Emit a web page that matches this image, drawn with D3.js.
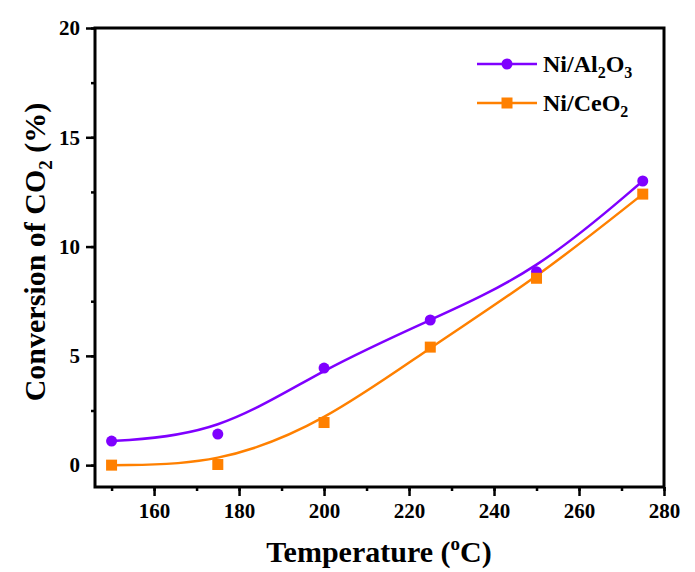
<!DOCTYPE html>
<html>
<head>
<meta charset="utf-8">
<script src="https://cdn.jsdelivr.net/npm/d3@7"></script>
<style>
  body { margin: 0; background: #fff; }
  svg text { font-family: "Liberation Serif", "Times New Roman", serif; font-weight: bold; }
</style>
</head>
<body>
<svg id="chart"></svg>
<script>
// Data
const temps = [150, 175, 200, 225, 250, 275];
const alValues = [1.1, 1.42, 4.44, 6.64, 8.85, 13.0];
const ceValues = [0.0, 0.03, 1.95, 5.4, 8.55, 12.4];
const xTicks = [160, 180, 200, 220, 240, 260, 280];
const yTicks = [0, 5, 10, 15, 20];

const W = 695, H = 572;
const plot = { left: 95, right: 664, top: 28, bottom: 487 };

const svg = d3.select('#chart')
    .attr('width', W)
    .attr('height', H);

const xScale = d3.scaleLinear().domain([146.1, 280]).range([plot.left, plot.right]);
const yScale = d3.scaleLinear().domain([-1, 20]).range([plot.bottom, plot.top]);

// x axis: minor ticks every 10, labels on 20s
const xAxis = svg.append('g')
    .attr('transform', `translate(0,${plot.bottom})`);
xAxis.call(d3.axisBottom(xScale).tickValues(d3.range(150, 281, 10)).tickSize(4).tickFormat(() => ''));
xAxis.append('g').call(d3.axisBottom(xScale).tickValues(xTicks).tickSize(9).tickPadding(7).tickFormat(d3.format('d')));

// y axis
const yAxis = svg.append('g')
    .attr('transform', `translate(${plot.left},0)`);
yAxis.call(d3.axisLeft(yScale).tickValues(d3.range(0, 20.1, 2.5)).tickSize(4).tickFormat(() => ''));
yAxis.append('g').call(d3.axisLeft(yScale).tickValues(yTicks).tickSize(9).tickPadding(6).tickFormat(d3.format('d')));

svg.selectAll('.domain').remove();
svg.selectAll('.tick line').attr('stroke', '#000').attr('stroke-width', 2.5);
svg.selectAll('.tick text').attr('font-size', 21).attr('fill', '#000');

// frame
svg.append('rect')
    .attr('x', plot.left)
    .attr('y', plot.top)
    .attr('width', plot.right - plot.left)
    .attr('height', plot.bottom - plot.top)
    .attr('fill', 'none')
    .attr('stroke', '#000')
    .attr('stroke-width', 3);

const purple = '#7f00ff';
const orange = '#ff8000';

const line = d3.line()
    .x(d => xScale(d[0]))
    .y(d => yScale(d[1]))
    .curve(d3.curveBasis);

const alData = temps.map((t, i) => [t, alValues[i]]);
const ceData = temps.map((t, i) => [t, ceValues[i]]);

svg.append('path').datum(alData)
    .attr('d', line).attr('fill', 'none').attr('stroke', purple).attr('stroke-width', 2.5);
svg.append('path').datum(ceData)
    .attr('d', line).attr('fill', 'none').attr('stroke', orange).attr('stroke-width', 2.5);

svg.selectAll('.al-pt').data(alData).enter()
    .append('circle')
    .attr('class', 'al-pt')
    .attr('cx', d => xScale(d[0]))
    .attr('cy', d => yScale(d[1]))
    .attr('r', 5.5)
    .attr('fill', purple);

const sq = 11;
svg.selectAll('.ce-pt').data(ceData).enter()
    .append('rect')
    .attr('class', 'ce-pt')
    .attr('x', d => xScale(d[0]) - sq / 2)
    .attr('y', d => yScale(d[1]) - sq / 2)
    .attr('width', sq)
    .attr('height', sq)
    .attr('fill', orange);

// legend
const legend = svg.append('g');
const items = [
    { color: purple, shape: 'circle', parts: [['Ni/Al', false], ['2', true], ['O', false], ['3', true]] },
    { color: orange, shape: 'square', parts: [['Ni/CeO', false], ['2', true]] }
];
items.forEach((it, i) => {
    const y = 64 + i * 39;
    legend.append('line')
        .attr('x1', 477).attr('x2', 537)
        .attr('y1', y).attr('y2', y)
        .attr('stroke', it.color).attr('stroke-width', 2.5);
    if (it.shape === 'circle') {
        legend.append('circle').attr('cx', 507).attr('cy', y).attr('r', 5.5).attr('fill', it.color);
    } else {
        legend.append('rect').attr('x', 507 - sq / 2).attr('y', y - sq / 2)
            .attr('width', sq).attr('height', sq).attr('fill', it.color);
    }
    const t = legend.append('text').attr('x', 543).attr('y', y + 8).attr('font-size', 24).attr('fill', '#000');
    it.parts.forEach((p, j) => {
        t.append('tspan')
            .attr('font-size', p[1] ? 16 : 24)
            .attr('dy', p[1] ? 6 : (j > 0 ? -6 : 0))
            .text(p[0]);
    });
});

// axis titles
const xt = svg.append('text')
    .attr('x', 379).attr('y', 562)
    .attr('text-anchor', 'middle')
    .attr('font-size', 30)
    .attr('fill', '#000');
xt.append('tspan').text('Temperature (');
xt.append('tspan').attr('font-size', 19).attr('dy', -12).text('o');
xt.append('tspan').attr('dy', 12).text('C)');

const yt = svg.append('text')
    .attr('transform', 'translate(45,252) rotate(-90)')
    .attr('text-anchor', 'middle')
    .attr('font-size', 30)
    .attr('fill', '#000');
yt.append('tspan').text('Conversion of CO');
yt.append('tspan').attr('font-size', 19).attr('dy', 7).text('2');
yt.append('tspan').attr('dy', -7).text(' (%)');
</script>
</body>
</html>
